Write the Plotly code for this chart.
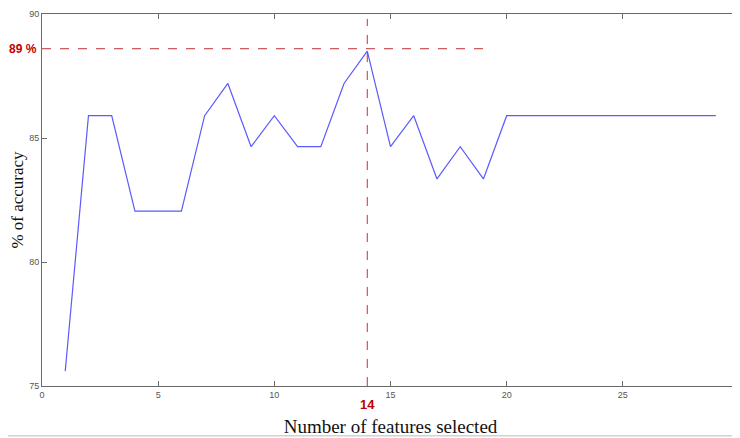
import plotly.graph_objects as go

features = list(range(1, 30))
accuracy = [75.6, 85.9, 85.9, 82.05, 82.05, 82.05, 85.9, 87.2, 84.65, 85.9,
            84.65, 84.65, 87.2, 88.5, 84.65, 85.9, 83.35, 84.65, 83.35, 85.9,
            85.9, 85.9, 85.9, 85.9, 85.9, 85.9, 85.9, 85.9, 85.9]
x_ticks = [0, 5, 10, 15, 20, 25, 30]
y_ticks = [75, 80, 85, 90]
best_k = 14
best_acc = 88.6
best_label = "89 %"
hline_end = 19

fig = go.Figure()
fig.add_trace(go.Scatter(x=features, y=accuracy, mode="lines",
                         line=dict(color="#5a5aff", width=1.2), showlegend=False))

axis_common = dict(showgrid=False, zeroline=False, showline=True, linecolor="#6a6a6a",
                   linewidth=1, mirror="ticks", ticks="inside", ticklen=5, automargin=False,
                   tickcolor="#6a6a6a", tickfont=dict(family="Liberation Sans", size=9, color="#555"))

fig.update_xaxes(range=[0, 30], tickvals=x_ticks, ticktext=[str(v) for v in x_ticks],
                 title=dict(text="Number of features selected",
                            font=dict(family="Liberation Serif", size=19, color="#111"),
                            standoff=20), **axis_common)
fig.update_yaxes(range=[75, 90], tickvals=y_ticks, ticktext=[str(v) for v in y_ticks],
                 title=dict(text="% of accuracy",
                            font=dict(family="Liberation Serif", size=17, color="#111"),
                            standoff=8), **axis_common)

fig.add_shape(type="line", x0=0, x1=hline_end, y0=best_acc, y1=best_acc, xref="x", yref="y",
              line=dict(color="#c03030", width=1, dash="dash"))
fig.add_shape(type="line", x0=best_k, x1=best_k, y0=75, y1=89.8, xref="x", yref="y",
              line=dict(color="#e02828", width=1, dash="dash"))
fig.add_shape(type="line", x0=-0.1, x1=1.1, y0=-0.134, y1=-0.134, xref="paper", yref="paper",
              line=dict(color="#bbbbbb", width=1))

fig.add_annotation(x=0, y=best_acc, xref="x", yref="y", text="<b>" + best_label + "</b>",
                   showarrow=False, xanchor="right", xshift=-3,
                   font=dict(family="Liberation Sans", size=12, color="#c00000"))
fig.add_annotation(x=best_k, y=75, xref="x", yref="y", text="<b>" + str(best_k) + "</b>",
                   showarrow=False, yanchor="top", yshift=-9,
                   font=dict(family="Liberation Sans", size=13, color="#c00000"))

fig.update_layout(width=732, height=430, margin=dict(l=34, r=1, t=6, b=52),
                  plot_bgcolor="white", paper_bgcolor="white")

fig.write_html("out.html")
